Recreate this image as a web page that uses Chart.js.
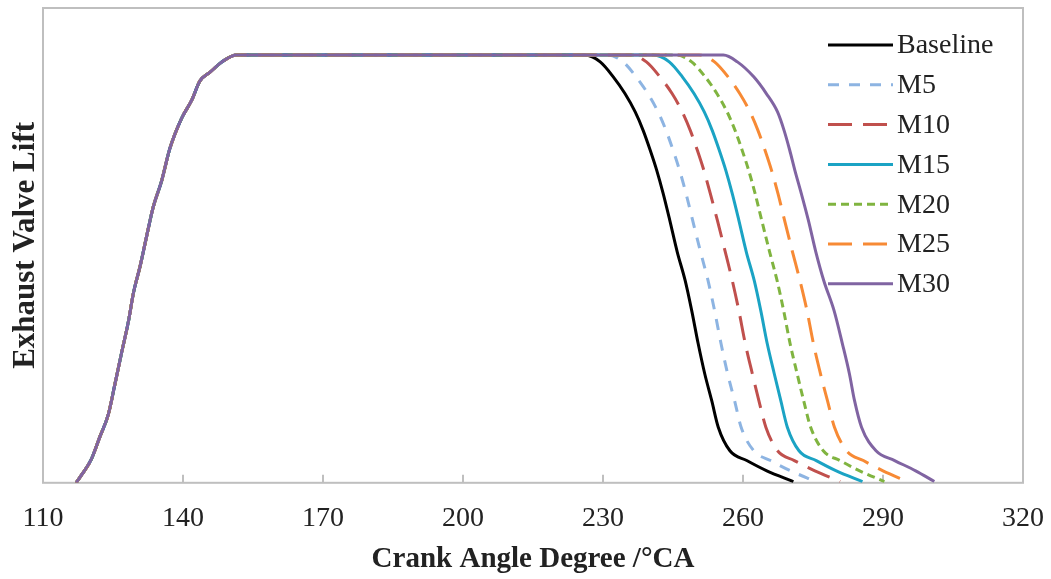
<!DOCTYPE html>
<html>
<head>
<meta charset="utf-8">
<script src="https://cdn.jsdelivr.net/npm/chart.js@4.4.1/dist/chart.umd.min.js"></script>
<style>
    html, body { margin: 0; padding: 0; background: #fff; }
    #wrap { width: 1051px; height: 579px; }
</style>
</head>
<body>
<div id="wrap"><canvas id="liftChart" width="1051" height="579"></canvas></div>
<script>
// Opening flank, same for every case (crank angle / lift)
const riseAngle = [117.1, 118.3, 120.4, 122.2, 124.0, 125.4, 126.9, 128.3, 129.4, 130.8, 132.2, 133.6, 135.4, 137.2, 139.7, 141.9, 143.6, 145.8, 148.6, 151.5];
const riseLift = [0, 0.19, 0.56, 1.08, 1.6, 2.3, 3.07, 3.77, 4.45, 5.06, 5.76, 6.44, 7.05, 7.82, 8.52, 8.95, 9.39, 9.6, 9.86, 10];

// Closing flank: lift levels, then the crank angle each case reaches them
const fallLift = [10, 9.84, 9.49, 9.1, 8.67, 8.24, 7.78, 7.31, 6.76, 6.14, 5.4, 4.73, 4.03, 3.25, 2.55, 1.92, 1.3, 0.75, 0.52, 0.28, 0.03];
const baselineAngle = [226.1, 229.4, 232.2, 234.7, 236.9, 238.6, 240.1, 241.5, 242.9, 244.3, 245.9, 247.6, 249.0, 250.4, 251.8, 253.3, 254.7, 257.2, 260.8, 265.1, 270.8];
const m5Angle = [231.0, 234.3, 237.1, 239.6, 241.8, 243.5, 245.0, 246.4, 247.8, 249.2, 250.9, 252.5, 253.9, 255.3, 256.7, 258.2, 259.6, 262.3, 265.9, 270.2, 275.6];
const m10Angle = [236.0, 239.3, 242.2, 244.8, 247.0, 248.7, 250.2, 251.6, 253.0, 254.5, 256.2, 257.7, 259.1, 260.5, 262.0, 263.4, 264.9, 267.4, 271.0, 275.4, 280.8];
const m15Angle = [240.8, 244.2, 247.0, 249.5, 251.7, 253.4, 254.9, 256.3, 257.7, 259.1, 260.7, 262.4, 263.8, 265.2, 266.7, 268.1, 269.5, 272.0, 275.7, 280.0, 285.6];
const m20Angle = [245.7, 249.0, 251.9, 254.4, 256.6, 258.3, 259.8, 261.2, 262.6, 264.0, 265.7, 267.3, 268.7, 270.1, 271.6, 273.0, 274.5, 277.2, 280.8, 285.0, 290.3];
const m25Angle = [250.6, 253.9, 256.8, 259.3, 261.5, 263.2, 264.7, 266.1, 267.5, 268.9, 270.6, 272.2, 273.7, 275.1, 276.6, 278.1, 279.6, 282.2, 285.8, 290.0, 295.2];
const m30Angle = [255.8, 258.8, 262.3, 265.0, 267.4, 268.8, 270.0, 271.1, 272.5, 274.0, 275.6, 277.3, 279.5, 281.3, 282.8, 283.9, 285.4, 288.5, 292.5, 297.0, 301.0];

const caseNames = ['Baseline', 'M5', 'M10', 'M15', 'M20', 'M25', 'M30'];
const xTicks = [110, 140, 170, 200, 230, 260, 290, 320];

const SERIF = '"Liberation Serif", "Times New Roman", serif';

const styles = [
    { color: '#000000', dash: [] },
    { color: '#8db4e2', dash: [11, 10] },
    { color: '#c0504d', dash: [24, 11] },
    { color: '#1ba3c4', dash: [] },
    { color: '#80b440', dash: [8, 5] },
    { color: '#f78a35', dash: [24, 11] },
    { color: '#8064a2', dash: [] }
];

function buildPoints(fallAngle) {
    const pts = riseAngle.map((a, i) => ({ x: a, y: riseLift[i] }));
    fallAngle.forEach((a, i) => pts.push({ x: a, y: fallLift[i] }));
    return pts;
}

const fallSets = [baselineAngle, m5Angle, m10Angle, m15Angle, m20Angle, m25Angle, m30Angle];

// draw back to front so M30 ends up on top of the shared rise
const datasets = caseNames.map((name, i) => ({
    label: name,
    data: buildPoints(fallSets[i]),
    borderColor: styles[i].color,
    borderDash: styles[i].dash,
    borderWidth: 3,
    pointRadius: 0,
    cubicInterpolationMode: 'monotone',
    order: caseNames.length - i
}));

// plot frame plus the little inward ticks on the x axis
const framePlugin = {
    id: 'frame',
    beforeDatasetsDraw(chart) {
        const { ctx, chartArea: a, scales: { x } } = chart;
        ctx.save();
        ctx.strokeStyle = '#bfbfbf';
        ctx.lineWidth = 2;
        ctx.strokeRect(a.left, a.top, a.right - a.left, a.bottom - a.top);
        xTicks.forEach(t => {
            const px = Math.round(x.getPixelForValue(t));
            ctx.beginPath();
            ctx.moveTo(px, a.bottom);
            ctx.lineTo(px, a.bottom - 8);
            ctx.stroke();
        });
        ctx.restore();
    }
};

// legend inside the plot, top right
const legendPlugin = {
    id: 'insideLegend',
    afterDraw(chart) {
        const { ctx } = chart;
        ctx.save();
        chart.data.datasets.forEach((ds, i) => {
            const y = 45 + i * 39.8;
            ctx.strokeStyle = ds.borderColor;
            ctx.lineWidth = 3;
            ctx.setLineDash(ds.borderDash);
            ctx.beginPath();
            ctx.moveTo(828, y);
            ctx.lineTo(893, y);
            ctx.stroke();
            ctx.setLineDash([]);
            ctx.fillStyle = '#222';
            ctx.font = '28px ' + SERIF;
            ctx.textBaseline = 'middle';
            ctx.fillText(ds.label, 897, y + 1);
        });
        ctx.restore();
    }
};

new Chart(document.getElementById('liftChart'), {
    type: 'line',
    data: { datasets },
    options: {
        responsive: false,
        animation: false,
        layout: { padding: { left: 0, top: 8, right: 28, bottom: 0 } },
        plugins: { legend: { display: false }, tooltip: { enabled: false } },
        scales: {
            x: {
                type: 'linear',
                min: 110,
                max: 320,
                afterBuildTicks: axis => { axis.ticks = xTicks.map(v => ({ value: v })); },
                grid: { display: false, drawTicks: true, tickLength: 16 },
                border: { display: false },
                ticks: {
                    padding: 3,
                    color: '#222',
                    font: { family: SERIF, size: 28, lineHeight: 1.2 },
                    maxRotation: 0
                },
                title: {
                    display: true,
                    text: 'Crank Angle Degree /°CA',
                    color: '#222',
                    font: { family: SERIF, size: 29, weight: 'bold', lineHeight: 1.2 },
                    padding: { top: 3.8, bottom: 2 }
                }
            },
            y: {
                min: 0,
                max: 11.1,
                grid: { display: false, drawTicks: false },
                border: { display: false },
                ticks: { display: false },
                title: {
                    display: true,
                    text: 'Exhaust Valve Lift',
                    color: '#222',
                    font: { family: SERIF, size: 31, weight: 'bold', lineHeight: 1.0 },
                    padding: { top: 10, bottom: 2 }
                }
            }
        }
    },
    plugins: [framePlugin, legendPlugin]
});
</script>
</body>
</html>
